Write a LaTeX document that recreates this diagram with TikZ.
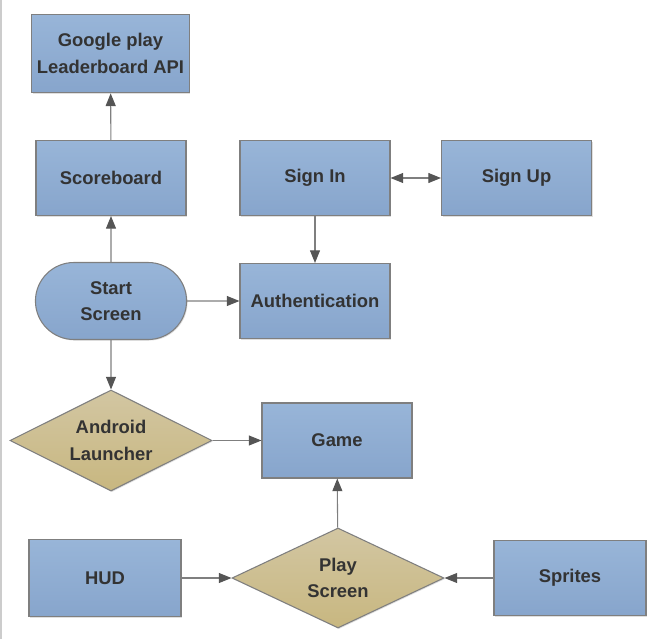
\documentclass[tikz,border=0pt]{standalone}
\usepackage{fontspec}
\setmainfont{Liberation Sans}
\usetikzlibrary{arrows.meta,shapes.geometric,shapes.misc,shadows}
\definecolor{boxtop}{HTML}{98B5D8}
\definecolor{boxbot}{HTML}{87A5CC}
\definecolor{dectop}{HTML}{D2C6A2}
\definecolor{decbot}{HTML}{C8B780}
\definecolor{edgegray}{HTML}{7F7F7F}
\definecolor{tipgray}{HTML}{555555}
\definecolor{txtgray}{HTML}{333333}
\begin{document}
\begin{tikzpicture}
        [   x = 0.75pt
        ,   y = -0.75pt
        ,   > = {Triangle[length = 9.5pt, width = 7.5pt, color = tipgray]}
        ,   every node/.style =
            {   font = \fontsize{13.8}{20}\selectfont\bfseries
            ,   text = txtgray
            ,   align = center
            ,   draw = edgegray
            ,   line width = 0.8pt
            ,   drop shadow = {shadow xshift = 0.8pt, shadow yshift = -0.8pt, opacity = 0.25}
            }
        ,   task/.style =
            {   rectangle
            ,   top color = boxtop
            ,   bottom color = boxbot
            ,   minimum width = 112.5pt
            ,   minimum height = 56.25pt
            }
        ,   terminal/.style =
            {   rounded rectangle
            ,   top color = boxtop
            ,   bottom color = boxbot
            ,   minimum width = 120pt
            ,   minimum height = 57.75pt
            }
        ,   decision/.style =
            {   diamond
            ,   aspect = 2
            ,   inner sep = 0pt
            ,   top color = dectop
            ,   bottom color = decbot
            }
        ,   link/.style =
            {   draw = edgegray
            ,   line width = 0.8pt
            }
        ]
        \useasboundingbox (0,0) rectangle (667,639);
        \draw [color = black!20, line width = 1.2pt] (1,0) -- (1,639);

        \node [task, minimum width = 118pt, minimum height = 59pt] (google) at (110.5,53.5) {Google play\\Leaderboard API};
        \node [task] (score) at (111,178) {Scoreboard};
        \node [task] (signin) at (315,178) {Sign In};
        \node [task] (signup) at (516.5,178) {Sign Up};
        \node [terminal] (start) at (111,301) {Start\\Screen};
        \node [task] (auth) at (315,301) {Authentication};
        \node [decision, minimum width = 151.5pt, minimum height = 75.75pt] (android) at (111,440.5) {Android\\Launcher};
        \node [task] (game) at (337,440.5) {Game};
        \node [task, minimum width = 114pt, minimum height = 57.75pt] (hud) at (105,578) {HUD};
        \node [decision, minimum width = 159pt, minimum height = 75pt] (play) at (338,578) {Play\\Screen};
        \node [task, minimum width = 114pt] (sprites) at (570,578) {Sprites};

        \draw [link, ->] (score) -- (google);
        \draw [link, ->] (start) -- (score);
        \draw [link, ->] (start) -- (auth);
        \draw [link, <->] (signin) -- (signup);
        \draw [link, ->] (signin) -- (auth);
        \draw [link, ->] (start) -- (android);
        \draw [link, ->] (android) -- (game);
        \draw [link, ->] (play) -- (game);
        \draw [link, ->] (hud) -- (play);
        \draw [link, ->] (sprites) -- (play);
    \end{tikzpicture}
\end{document}
